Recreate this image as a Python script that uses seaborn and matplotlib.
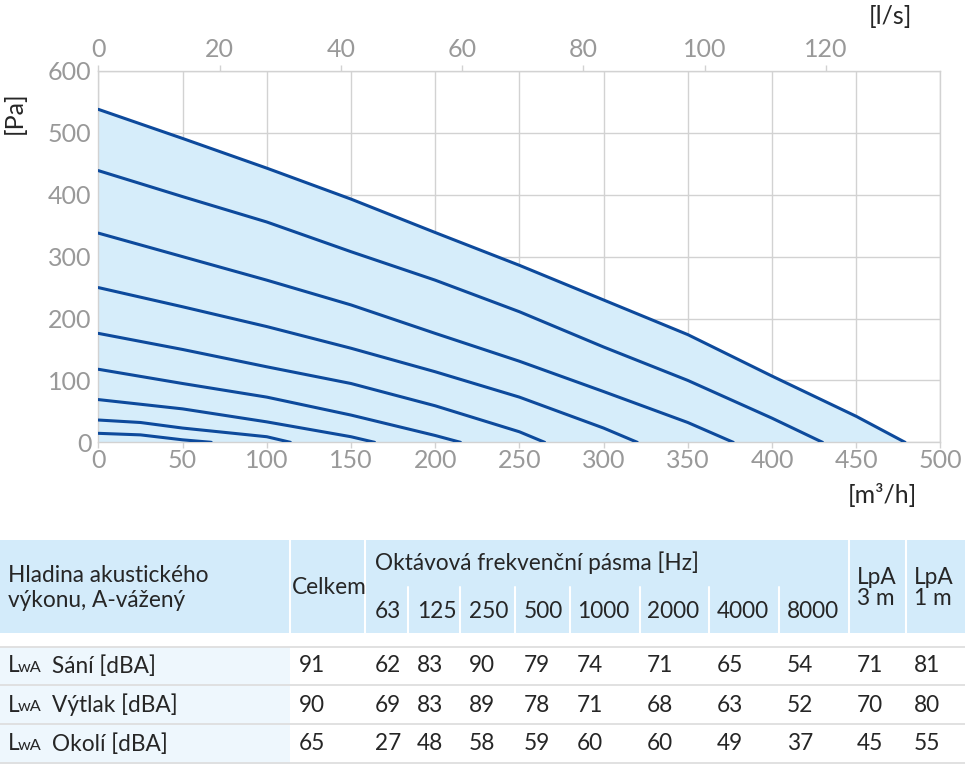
"""
Fan curve (pressure vs. air flow) with acoustic power table below.
"""

## Import packages
import pandas as pd
import matplotlib.pyplot as plt
import seaborn as sns
from matplotlib.patches import Rectangle


## Prepare data
# Fan curves, outermost first: flow [m3/h] and pressure [Pa]
flow_1 = [0, 50, 100, 150, 200, 250, 300, 350, 400, 450, 479]
pa_1 = [538, 491, 443, 393, 339, 286, 230, 174, 107, 42, 0]
flow_2 = [0, 50, 100, 150, 200, 250, 300, 350, 400, 430]
pa_2 = [439, 397, 356, 308, 262, 211, 154, 100, 39, 0]
flow_3 = [0, 50, 100, 150, 200, 250, 300, 350, 377]
pa_3 = [338, 300, 262, 222, 176, 131, 82, 32, 0]
flow_4 = [0, 50, 100, 150, 200, 250, 300, 320]
pa_4 = [250, 219, 187, 152, 114, 73, 23, 0]
flow_5 = [0, 50, 100, 150, 200, 250, 265]
pa_5 = [176, 150, 122, 95, 59, 17, 0]
flow_6 = [0, 50, 100, 150, 200, 215]
pa_6 = [118, 95, 73, 44, 11, 0]
flow_7 = [0, 50, 100, 150, 164]
pa_7 = [69, 54, 33, 9, 0]
flow_8 = [0, 25, 50, 100, 114]
pa_8 = [36, 32, 23, 9, 0]
flow_9 = [0, 25, 50, 67]
pa_9 = [14.5, 12, 4, 0]

flows = [flow_1, flow_2, flow_3, flow_4, flow_5, flow_6, flow_7, flow_8, flow_9]
pressures = [pa_1, pa_2, pa_3, pa_4, pa_5, pa_6, pa_7, pa_8, pa_9]

# Long-form table for seaborn
curves = pd.concat([pd.DataFrame({'flow': f, 'pa': p, 'curve': i})
                    for i, (f, p) in enumerate(zip(flows, pressures))])

# Acoustic table
freq_bands = ['63', '125', '250', '500', '1000', '2000', '4000', '8000']
row_labels = ['Sání [dBA]', 'Výtlak [dBA]', 'Okolí [dBA]']
celkem = [91, 90, 65]
sani = [62, 83, 90, 79, 74, 71, 65, 54]
vytlak = [69, 83, 89, 78, 71, 68, 63, 52]
okoli = [27, 48, 58, 59, 60, 60, 49, 37]
lpa_3m = [71, 70, 45]
lpa_1m = [81, 80, 55]
band_values = [sani, vytlak, okoli]


## Define parameters for figure
line_col = '#0d4a9c'
fill_col = '#d6edfa'
grid_col = '#d2d2d2'
tick_col = '#999999'
head_col = '#d3ebfa'
row_col = '#eef7fd'
fs_axis = 18
fs = 16.3

sns.set_theme(style='white')
plt.rcParams['font.family'] = ['Lato', 'DejaVu Sans']


## Create figure
W, H = 965, 764
fig = plt.figure(figsize=(W / 100, H / 100), dpi=100)

ax = fig.add_axes([98.4 / W, 1 - 442.3 / H, 842 / W, 371.3 / H])

# Filled operating area under the outermost curve
ax.fill_between(flow_1, pa_1, 0, color=fill_col, lw=0, zorder=1)

# Fan curves
sns.lineplot(ax=ax, data=curves, x='flow', y='pa', hue='curve', units='curve',
             estimator=None, sort=False, palette=[line_col] * len(flows),
             legend=False, lw=2.2, zorder=3)

ax.set_xlim(0, 500)
ax.set_ylim(0, 600)
ax.set_xticks(range(0, 501, 50))
ax.set_yticks(range(0, 601, 100))
ax.grid(True, color=grid_col, lw=1, zorder=0)
ax.set_axisbelow(True)
for s in ax.spines.values():
    s.set_color(grid_col)
    s.set_linewidth(1)
ax.tick_params(axis='both', colors=grid_col, labelcolor=tick_col, labelsize=fs_axis,
               length=4, width=1, pad=1)
ax.tick_params(axis='y', length=0, pad=5)
ax.set_xlabel('')
ax.set_ylabel('')

# Top axis in l/s
ax2 = ax.twiny()
ax2.set_xlim(0, 500 / 3.6)
ax2.set_xticks(range(0, 121, 20))
ax2.tick_params(axis='x', colors=grid_col, labelcolor=tick_col, labelsize=fs_axis,
                length=4, width=1, pad=3)
for s in ax2.spines.values():
    s.set_visible(False)

# Unit labels
fig.text(14 / W, 1 - 113 / H, '[Pa]', rotation=90, fontsize=fs_axis, ha='center', va='center')
fig.text(890 / W, 1 - 16 / H, '[l/s]', fontsize=fs_axis, ha='center', va='center')
fig.text(882 / W, 1 - 495 / H, '[m³/h]', fontsize=fs_axis, ha='center', va='center')


## Table
tab = fig.add_axes([0, 0, 1, 244 / H])
tab.set_xlim(0, W)
tab.set_ylim(H, 520)
tab.axis('off')

# Backgrounds
tab.add_patch(Rectangle((0, 540), W, 93, color=head_col, lw=0))
tab.add_patch(Rectangle((0, 647), 290, 117, color=row_col, lw=0))

# Header separators
for x in [290, 365, 849, 906]:
    tab.plot([x, x], [540, 633], color='white', lw=1.5)
for x in [408, 460, 515, 570, 640, 709, 779]:
    tab.plot([x, x], [587, 633], color='white', lw=1.5)

# Row separators
for y in [647, 685, 724, 763]:
    tab.plot([0, W], [y, y], color='#dcdcdc', lw=1.2)

# Header text
tab.text(8, 588, 'Hladina akustického\nvýkonu, A-vážený', fontsize=fs,
         va='center', ha='left', linespacing=1.2)
tab.text(292, 588, 'Celkem', fontsize=fs, va='center', ha='left')
tab.text(375, 563, 'Oktávová frekvenční pásma [Hz]', fontsize=fs, va='center', ha='left')
band_x = [375, 417, 469, 524, 577, 647, 717, 787]
for x, b in zip(band_x, freq_bands):
    tab.text(x, 611, b, fontsize=fs, va='center', ha='left')
tab.text(857, 588, 'LpA\n3 m', fontsize=fs, va='center', ha='left', linespacing=1.0)
tab.text(914, 588, 'LpA\n1 m', fontsize=fs, va='center', ha='left', linespacing=1.0)

# Data rows
row_y = [666, 705, 744]
for i, y in enumerate(row_y):
    tab.text(8, y, 'L', fontsize=fs, va='center', ha='left')
    tab.text(18, y + 2, 'wA', fontsize=fs * 0.72, va='center', ha='left')
    tab.text(52, y, row_labels[i], fontsize=fs, va='center', ha='left')
    tab.text(299, y, str(celkem[i]), fontsize=fs, va='center', ha='left')
    for x, v in zip(band_x, band_values[i]):
        tab.text(x, y, str(v), fontsize=fs, va='center', ha='left')
    tab.text(857, y, str(lpa_3m[i]), fontsize=fs, va='center', ha='left')
    tab.text(914, y, str(lpa_1m[i]), fontsize=fs, va='center', ha='left')


# Save figure
plt.savefig('out.png', dpi=100)
